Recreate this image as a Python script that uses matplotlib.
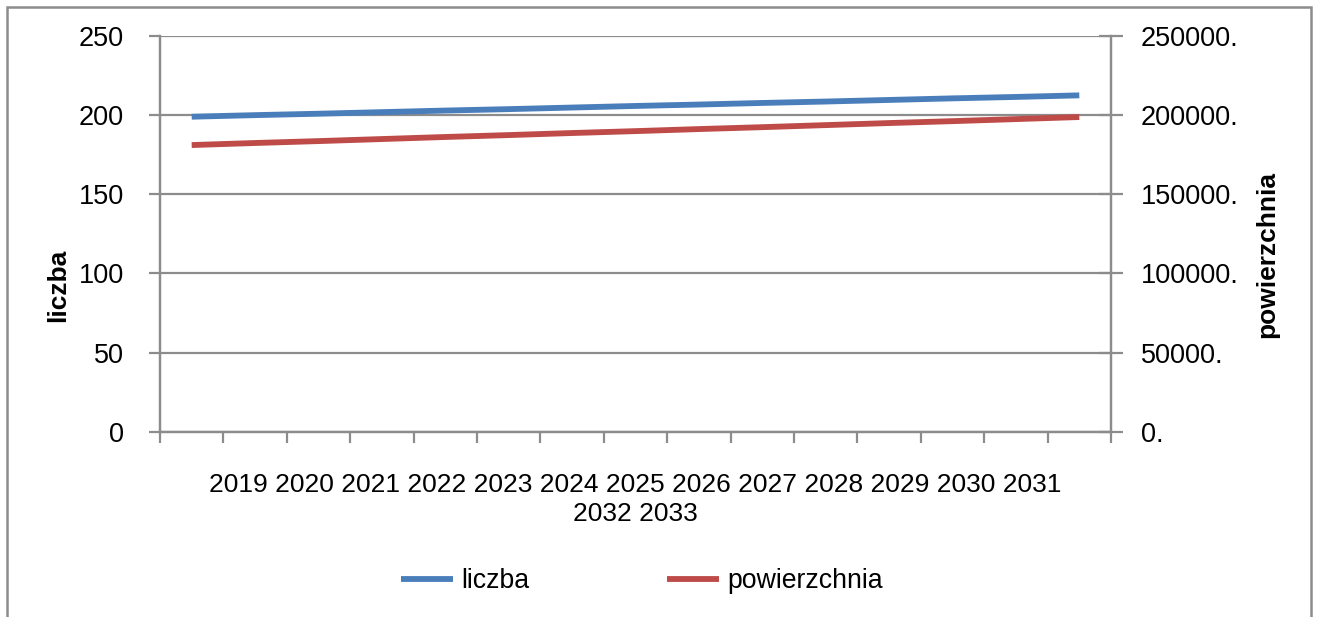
import matplotlib
matplotlib.use("Agg")
import matplotlib.pyplot as plt
from matplotlib.patches import Rectangle
from matplotlib.ticker import FuncFormatter, FixedLocator

plt.rcParams['font.family'] = ['Liberation Sans', 'DejaVu Sans']

years = ["2019", "2020", "2021", "2022", "2023", "2024", "2025", "2026",
         "2027", "2028", "2029", "2030", "2031", "2032", "2033"]
liczba = [199.0, 200.0, 200.9, 201.9, 202.9, 203.8, 204.8, 205.8,
          206.7, 207.7, 208.6, 209.6, 210.6, 211.5, 212.5]
powierzchnia = [181100, 182400, 183600, 184900, 186200, 187400, 188700, 189900,
                191200, 192400, 193700, 195000, 196200, 197500, 198800]

W, H = 1317, 617
fig = plt.figure(figsize=(W / 100, H / 100), dpi=100)
fig.patch.set_facecolor("white")

left, right, top, bottom = 160, 1111, 36, 431.7
ax = fig.add_axes([left / W, 1 - bottom / H, (right - left) / W, (bottom - top) / H])
ax2 = ax.twinx()

GRAY = "#8c8c8c"
BLUE = "#4a7ebb"
RED = "#be4b48"
FS = 19.5

x = list(range(len(years)))
l1, = ax.plot(x, liczba, color=BLUE, lw=4.2, solid_capstyle="butt", label="liczba", zorder=3)
l2, = ax2.plot(x, powierzchnia, color=RED, lw=4.2, solid_capstyle="butt", label="powierzchnia", zorder=3)

ax.set_xlim(-0.5, len(years) - 0.5)
ax.set_ylim(0, 250)
ax2.set_ylim(0, 250000)
ax.set_yticks(range(0, 251, 50))
ax2.set_yticks(range(0, 250001, 50000))
ax2.yaxis.set_major_formatter(FuncFormatter(lambda v, p: f"{int(v)}."))

ax.xaxis.set_major_locator(FixedLocator([i - 0.5 for i in range(len(years) + 1)]))
ax.set_xticklabels([])

ax.yaxis.grid(True, color=GRAY, lw=1.6)
ax.set_axisbelow(True)

for a in (ax, ax2):
    for s in a.spines.values():
        s.set_color(GRAY)
        s.set_linewidth(1.6)
    a.spines['top'].set_visible(False)

ax.tick_params(axis='y', direction='out', length=8, width=1.6, color=GRAY,
               labelsize=FS, pad=18)
ax.tick_params(axis='x', direction='out', length=8, width=1.6, color=GRAY)
ax2.tick_params(axis='y', direction='inout', length=17, width=1.6, color=GRAY,
                labelsize=FS, pad=13)
for t in ax2.get_yticklabels():
    t.set_horizontalalignment('left')

# wrapped category labels (as rendered in the original)
label_text = " ".join(years[:13]) + "\n" + " ".join(years[13:])
ax.text(0.5, -0.105, label_text, transform=ax.transAxes, ha='center', va='top',
        fontsize=19, linespacing=1.25)

fig.text(58 / W, 1 - 285 / H, "liczba", rotation=90, ha='center', va='center',
         fontsize=19, fontweight='bold')
fig.text(1267 / W, 1 - 255 / H, "powierzchnia", rotation=90, ha='center', va='center',
         fontsize=19, fontweight='bold')

fig.legend(handles=[l1, l2], loc='center', bbox_to_anchor=(642 / W, 1 - 581 / H),
           ncol=2, frameon=False, fontsize=19.2, handlelength=1.95,
           handletextpad=0.3, columnspacing=5.15)

fig.patches.append(Rectangle((7 / W, -0.05), (1311 - 7) / W, 1 - 7 / H + 0.05,
                             transform=fig.transFigure, fill=False,
                             edgecolor=GRAY, lw=1.8))

fig.savefig("out.png", dpi=100)
